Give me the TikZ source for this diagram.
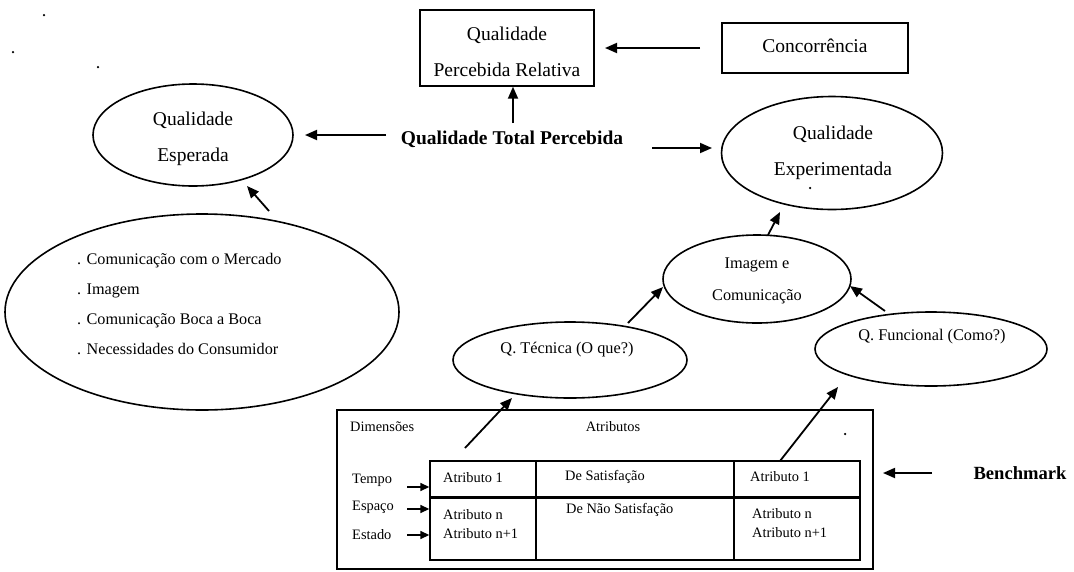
\documentclass[tikz,border=0pt]{standalone}
\usepackage{fontspec}
\setmainfont{Liberation Serif}
\usetikzlibrary{shapes.geometric,arrows.meta}
\begin{document}
\begin{tikzpicture}[x=1pt,y=-1pt,
  ell/.style={draw, ellipse, line width=1.6pt, inner sep=0pt},
  boxn/.style={draw, rectangle, line width=1.4pt, inner sep=0pt},
  bigt/.style={font=\fontsize{19.5}{36}\selectfont, align=center, inner sep=0pt},
  midt/.style={font=\fontsize{16.3}{32}\selectfont, align=center, inner sep=0pt},
  smallt/.style={font=\fontsize{14.4}{19}\selectfont, align=left, inner sep=0pt, anchor=west},
  arr/.style={line width=1.8pt, -{Triangle[length=12pt,width=10pt]}},
  sarr/.style={line width=1.6pt, -{Triangle[length=9pt,width=8pt]}},
  speck/.style={circle, fill, inner sep=0pt, minimum size=2.5pt}]
\useasboundingbox (0,0) rectangle (1074,571);

% specks of the scan
\node[speck] (d1) at (44,15) {};
\node[speck] (d2) at (13,52) {};
\node[speck] (d3) at (98,67) {};
\node[speck] (d4) at (810,188) {};
\node[speck] (d5) at (845,434) {};

% boxes
\node[boxn, minimum width=174pt, minimum height=76pt] (qpr) at (507,48) {};
\node[bigt] (qprT) at (507,52) {Qualidade\\Percebida Relativa};
\node[boxn, minimum width=186pt, minimum height=50pt] (conc) at (815,48) {};
\node[bigt] (concT) at (815,46) {Concorrência};

% central text
\node[bigt, font=\fontsize{19.5}{36}\selectfont\bfseries] (qtp) at (512,139) {Qualidade Total Percebida};

% ellipses
\node[ell, minimum width=200pt, minimum height=102pt] (qesp) at (193,135) {};
\node[bigt] (qespT) at (193,139) {Qualidade\\Esperada};
\node[ell, minimum width=221pt, minimum height=113pt] (qexp) at (832,153) {};
\node[bigt] (qexpT) at (833,153) {Qualidade\\Experimentada};
\node[ell, minimum width=394pt, minimum height=196pt] (lst) at (202,312) {};
\node[font=\fontsize{16.2}{30}\selectfont, align=left, inner sep=0pt, anchor=west] (lstT) at (77,304)
  {. Comunicação com o Mercado\\. Imagem\\. Comunicação Boca a Boca\\. Necessidades do Consumidor};
\node[ell, minimum width=188pt, minimum height=88pt] (img) at (757,279) {};
\node[midt] (imgT) at (757,281) {Imagem e\\Comunicação};
\node[ell, minimum width=234pt, minimum height=76pt] (qtec) at (570,360) {};
\node[midt] (qtecT) at (567,350) {Q. Técnica (O que?)};
\node[ell, minimum width=232pt, minimum height=74pt] (qfun) at (931,349) {};
\node[midt] (qfunT) at (932,337) {Q. Funcional (Como?)};

% table frame
\node[draw, rectangle, line width=1.1pt, minimum width=536pt, minimum height=159pt, inner sep=0pt] (frame) at (605,489.5) {};
\node[smallt] (dim) at (350,427) {Dimensões};
\node[smallt, anchor=center] (atr) at (613,427) {Atributos};
\node[draw, rectangle, line width=1.4pt, minimum width=430pt, minimum height=99pt, inner sep=0pt] (tbl) at (645,510.5) {};
\draw[line width=1.4pt] (536,461) -- (536,560);
\draw[line width=1.4pt] (734,461) -- (734,560);
\draw[line width=3pt] (430,497.5) -- (860,497.5);

\node[smallt] (c11) at (443,478) {Atributo 1};
\node[smallt] (c12) at (565,477) {De Satisfação};
\node[smallt] (c13) at (750,477) {Atributo 1};
\node[smallt] (c21) at (443,524) {Atributo n\\Atributo n+1};
\node[smallt] (c22) at (566,510) {De Não Satisfação};
\node[smallt] (c23) at (752,523) {Atributo n\\Atributo n+1};

\node[smallt] (tempo) at (352,480) {Tempo};
\node[smallt] (espaco) at (352,507) {Espaço};
\node[smallt] (estado) at (352,535) {Estado};

\node[font=\fontsize{18.6}{22}\selectfont\bfseries, inner sep=0pt] (bench) at (1020,473) {Benchmark};

% connector end points
\coordinate (a1s) at (386,135);
\coordinate (a1e) at (305,135);
\coordinate (a2s) at (513,123);
\coordinate (a3s) at (700,48);
\coordinate (a3e) at (605,48);
\coordinate (a4s) at (652,148);
\coordinate (a4e) at (712,148);
\coordinate (a5s) at (269,211);
\coordinate (a5e) at (247,186);
\coordinate (a6s) at (768,235);
\coordinate (a6e) at (780,212);
\coordinate (a7s) at (628,323);
\coordinate (a7e) at (663,287);
\coordinate (a8s) at (885,311);
\coordinate (a8e) at (850,286);
\coordinate (a9s) at (465,448);
\coordinate (a9e) at (512,398);
\coordinate (a10s) at (780,461);
\coordinate (a10e) at (838,387);
\coordinate (a11s) at (932,473);
\coordinate (a11e) at (883,473);
\coordinate (t1) at (407,487);
\coordinate (t2) at (407,509);
\coordinate (t3) at (407,535);

% connectors
\draw[arr] (a1s) -- (a1e);
\draw[arr] (a2s) -- (a2s |- qpr.south);
\draw[arr] (a3s) -- (a3e);
\draw[arr] (a4s) -- (a4e);
\draw[arr] (a5s) -- (a5e);
\draw[arr] (a6s) -- (a6e);
\draw[arr] (a7s) -- (a7e);
\draw[arr] (a8s) -- (a8e);
\draw[arr] (a9s) -- (a9e);
\draw[arr] (a10s) -- (a10e);
\draw[arr] (a11s) -- (a11e);
\draw[sarr] (t1) -- (t1 -| tbl.west);
\draw[sarr] (t2) -- (t2 -| tbl.west);
\draw[sarr] (t3) -- (t3 -| tbl.west);
\end{tikzpicture}
\end{document}
